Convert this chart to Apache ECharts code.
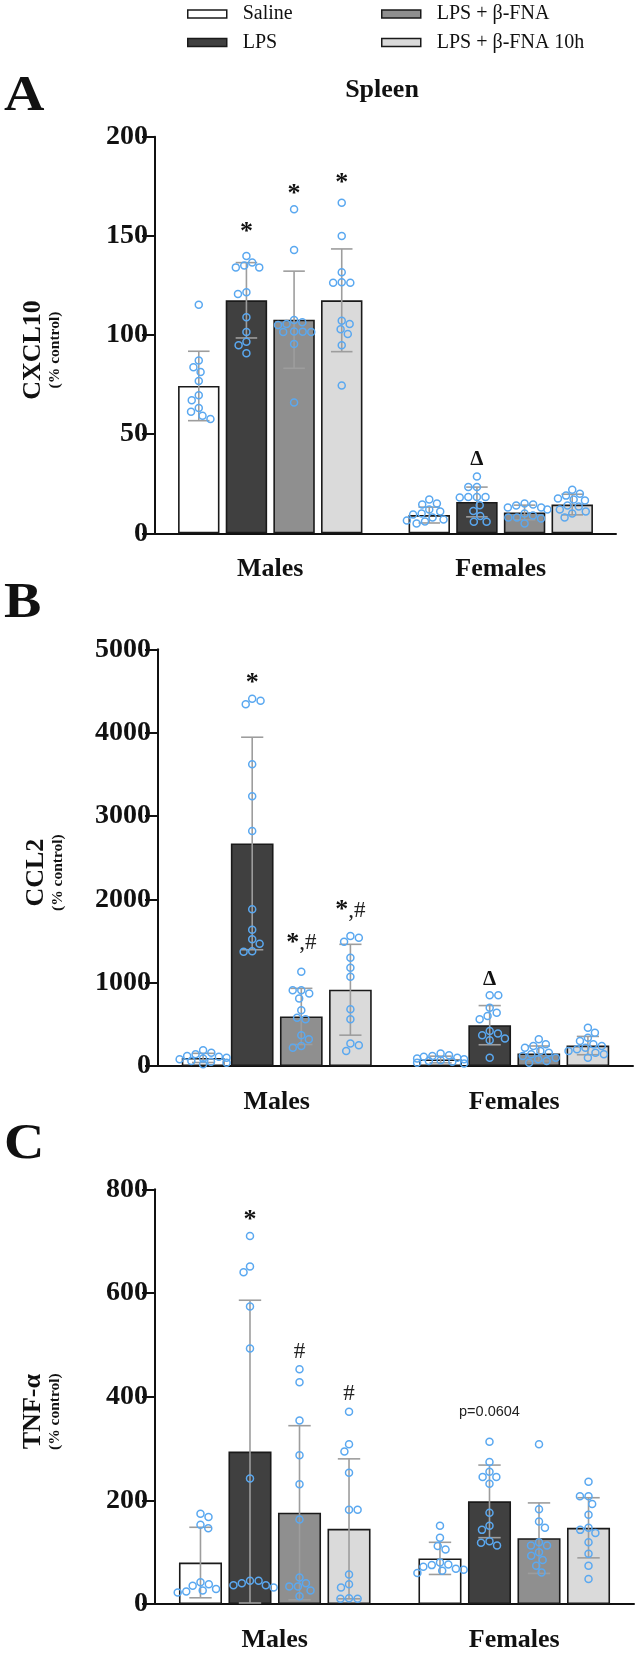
<!DOCTYPE html>
<html>
<head>
<meta charset="utf-8">
<script src="https://cdn.jsdelivr.net/npm/echarts@6/dist/echarts.min.js"></script>
<style>
  html, body { margin: 0; padding: 0; background: #fff; }
  #chart { width: 636px; height: 1653px; }
</style>
</head>
<body>
<div id="chart"></div>
<script>
var groups = ['Males', 'Females'];
var treatments = ['Saline', 'LPS', 'LPS + β-FNA', 'LPS + β-FNA 10h'];

// A - CXCL10 (% control)
var cxclMeanM = [74.3, 117.5, 107.7, 117.5];
var cxclSdM = [17.5, 19, 24.5, 25.9];
var cxclMeanF = [9.2, 15.8, 10.5, 14.5];
var cxclSdF = [4, 7.5, 3.7, 5.2];
var cxclPtsM = [
  [115.3, 83.7, 87.1, 81.3, 76.8, 69.6, 67.1, 63.2, 61.3, 57.6, 59.3],
  [139.8, 136.6, 134.1, 134.1, 135, 121.5, 120.7, 108.9, 101.5, 96.6, 94.8, 90.8],
  [163.4, 142.9, 105, 106.4, 107.6, 101.7, 101.5, 101.5, 101.8, 105.5, 95.5, 66],
  [166.7, 149.9, 131.6, 126.6, 126.4, 126.4, 105.5, 107.2, 102.9, 100.5, 94.8, 74.5]
];
var cxclPtsF = [
  [17, 15, 14.5, 12, 11, 10, 9.5, 8, 7, 6.5, 6, 5],
  [28.7, 23.3, 23.3, 18.3, 18.3, 18.3, 18, 14.2, 8.7, 11.3, 5.8, 5.8],
  [15, 14.5, 14, 13, 13, 12, 10, 9, 8, 8, 7.5, 5],
  [22, 20, 19, 17.5, 17, 16.5, 14, 13.5, 12, 11, 10, 8]
];
var cxclMarks = [[0, 1, 152, '*'], [0, 2, 171, '*'], [0, 3, 176.5, '*'], [1, 1, 37, 'Δ']];

// B - CCL2 (% control)
var ccl2MeanM = [97, 2670, 595, 915];
var ccl2SdM = [55, 1275, 337, 545];
var ccl2MeanF = [78, 490, 150, 245];
var ccl2SdF = [40, 235, 90, 110];
var ccl2PtsM = [
  [190, 160, 140, 120, 110, 100, 90, 80, 60, 50, 40, 20],
  [4384, 4340, 4408, 3620, 3236, 2820, 1880, 1636, 1468, 1520, 1372, 1376],
  [1130, 910, 910, 870, 810, 670, 580, 560, 370, 320, 240, 220],
  [1560, 1540, 1490, 1300, 1180, 1070, 680, 560, 270, 250, 180]
];
var ccl2PtsF = [
  [150, 130, 120, 110, 100, 90, 80, 70, 60, 50, 40, 30],
  [850, 850, 700, 640, 600, 560, 420, 390, 370, 330, 310, 100],
  [320, 260, 240, 220, 180, 160, 140, 120, 100, 80, 60, 40],
  [460, 400, 340, 300, 260, 240, 220, 200, 180, 160, 140, 100]
];
var ccl2Marks = [[0, 1, 4592, '*'], [0, 2, 1472, '*,#'], [0, 3, 1864, '*,#'], [1, 1, 1040, 'Δ']];

// C - TNF-α (% control)
var tnfMeanM = [80, 294, 176, 145];
var tnfSdM = [68, 292, 168, 135];
var tnfMeanF = [88, 198, 127, 147];
var tnfSdF = [31, 70, 68, 58];
var tnfPtsM = [
  [174, 168, 153, 146, 42, 38, 35, 29, 26, 24, 22],
  [710, 651, 640, 574, 493, 242, 36, 45, 36, 45, 32, 40],
  [453, 428, 354, 287, 231, 163, 51, 40, 34, 34, 26, 15],
  [371, 308, 294, 253, 182, 182, 57, 38, 32, 11, 10, 10]
];
var tnfPtsF = [
  [151, 128, 112, 105, 80, 76, 75, 72, 68, 66, 64, 60],
  [313, 274, 255, 245, 245, 232, 176, 151, 143, 121, 118, 113],
  [308, 183, 159, 147, 119, 113, 113, 100, 93, 85, 74, 61],
  [236, 208, 208, 193, 172, 147, 143, 137, 119, 97, 74, 48]
];
var tnfMarks = [[0, 1, 740, '*'], [0, 2, 486, '#'], [0, 3, 406, '#'], [1, 1, 370, 'p=0.0604']];

var SERIF = "'Liberation Serif', 'Times New Roman', serif";
var SANS = "'Liberation Sans', Arial, sans-serif";
var fills = ['#ffffff', '#404040', '#8f8f8f', '#dadada'];
var CAT_GAP = 0.2, BAR_GAP = 0.15;
var DOT = 8.6;

var panels = [
  { key: 'A', title: 'CXCL10', max: 200, step: 50, top: 136.7, height: 396.6, left: 155, right: 20,
    meanM: cxclMeanM, sdM: cxclSdM, meanF: cxclMeanF, sdF: cxclSdF, ptsM: cxclPtsM, ptsF: cxclPtsF, marks: cxclMarks },
  { key: 'B', title: 'CCL2', max: 5000, step: 1000, top: 649.3, height: 416.7, left: 158, right: 3,
    meanM: ccl2MeanM, sdM: ccl2SdM, meanF: ccl2MeanF, sdF: ccl2SdF, ptsM: ccl2PtsM, ptsF: ccl2PtsF, marks: ccl2Marks },
  { key: 'C', title: 'TNF-α', max: 800, step: 200, top: 1189.3, height: 415.2, left: 155, right: 2,
    meanM: tnfMeanM, sdM: tnfSdM, meanF: tnfMeanF, sdF: tnfSdF, ptsM: tnfPtsM, ptsF: tnfPtsF, marks: tnfMarks }
];

// beeswarm: horizontal pixel offsets so circles do not overlap, kept inside the bar
function swarm(vals, pxPerUnit, limit) {
  var order = vals.map(function (v, i) { return i; })
    .sort(function (a, b) { return vals[b] - vals[a]; });
  var placed = [], off = [];
  order.forEach(function (i, n) {
    var y = vals[i] * pxPerUnit, blocks = [];
    placed.forEach(function (p) {
      var dy = Math.abs(p.y - y);
      if (dy < DOT) {
        var dx = Math.sqrt(DOT * DOT - dy * dy);
        blocks.push([p.x - dx, p.x + dx]);
      }
    });
    var cands = [0];
    blocks.forEach(function (b) { cands.push(b[0], b[1]); });
    var sign = n % 2 ? 1 : -1;
    cands.sort(function (a, b) {
      var d = Math.abs(a) - Math.abs(b);
      return Math.abs(d) > 1e-6 ? d : (b - a) * sign;
    });
    var x = null;
    for (var c = 0; c < cands.length; c++) {
      var ok = blocks.every(function (b) { return cands[c] <= b[0] + 1e-6 || cands[c] >= b[1] - 1e-6; });
      if (ok && Math.abs(cands[c]) <= limit) { x = cands[c]; break; }
    }
    if (x === null) {
      // too crowded: take the slot inside the bar that is furthest from its neighbours
      var best = -1;
      [-1, -0.5, 0, 0.5, 1].forEach(function (f) {
        var cx = f * limit, near = Infinity;
        placed.forEach(function (p) { near = Math.min(near, Math.hypot(p.x - cx, p.y - y)); });
        if (near > best) { best = near; x = cx; }
      });
    }
    placed.push({ x: x, y: y });
    off[i] = x;
  });
  return off;
}

function barCenter(api, cat, k) {
  var c = api.coord([cat, 0]);
  var band = api.size([1, 0])[0];
  var w = band * (1 - CAT_GAP) / (4 + 3 * BAR_GAP);
  return { x: c[0] + (k - 1.5) * w * (1 + BAR_GAP), w: w };
}

var grids = [], xAxes = [], yAxes = [], series = [];

panels.forEach(function (p, gi) {
  grids.push({ left: p.left, right: p.right, top: p.top, height: p.height });
  xAxes.push({
    gridIndex: gi, type: 'category', data: groups,
    axisLine: { lineStyle: { color: '#111', width: 2 } },
    axisTick: { alignWithLabel: true, length: 13, lineStyle: { color: '#111', width: 2 } },
    axisLabel: { color: '#111', fontFamily: SERIF, fontWeight: 'bold', fontSize: 26, margin: 23 }
  });
  yAxes.push({
    gridIndex: gi, type: 'value', min: 0, max: p.max, interval: p.step,
    name: '{t|' + p.title + '}\n{s|(% control)}',
    nameLocation: 'middle', nameRotate: 90, nameGap: 92,
    nameTextStyle: {
      padding: [0, 30, 0, 0],
      rich: {
        t: { fontFamily: SERIF, fontWeight: 'bold', fontSize: 26, color: '#111', lineHeight: 26, align: 'center' },
        s: { fontFamily: SERIF, fontWeight: 'bold', fontSize: 15.5, color: '#111', lineHeight: 17, align: 'center' }
      }
    },
    axisLine: { show: true, lineStyle: { color: '#111', width: 2 } },
    axisTick: { show: true, length: 13, lineStyle: { color: '#111', width: 2 } },
    axisLabel: { color: '#111', fontFamily: SERIF, fontWeight: 'bold', fontSize: 28, margin: 7,
      formatter: function (v) { return String(v); } },
    splitLine: { show: false }
  });

  treatments.forEach(function (t, k) {
    series.push({
      name: t, type: 'bar', xAxisIndex: gi, yAxisIndex: gi,
      barGap: (BAR_GAP * 100) + '%', barCategoryGap: (CAT_GAP * 100) + '%',
      data: [p.meanM[k], p.meanF[k]],
      itemStyle: { color: fills[k], borderColor: '#1a1a1a', borderWidth: 1.6 },
      emphasis: { disabled: true },
      z: 2
    });
  });

  var errData = [];
  treatments.forEach(function (t, k) {
    errData.push([0, k, p.meanM[k], p.sdM[k]]);
    errData.push([1, k, p.meanF[k], p.sdF[k]]);
  });
  series.push({
    type: 'custom', xAxisIndex: gi, yAxisIndex: gi, z: 3, silent: true,
    encode: { x: 0, y: 2 },
    data: errData,
    renderItem: function (params, api) {
      var bc = barCenter(api, api.value(0), api.value(1));
      var m = api.value(2), sd = api.value(3);
      var hi = api.coord([0, m + sd])[1], lo = api.coord([0, Math.max(0, m - sd)])[1];
      var cap = bc.w * 0.26;
      var st = { stroke: '#9d9d9d', lineWidth: 1.6 };
      return { type: 'group', children: [
        { type: 'line', shape: { x1: bc.x, y1: hi, x2: bc.x, y2: lo }, style: st },
        { type: 'line', shape: { x1: bc.x - cap, y1: hi, x2: bc.x + cap, y2: hi }, style: st },
        { type: 'line', shape: { x1: bc.x - cap, y1: lo, x2: bc.x + cap, y2: lo }, style: st }
      ] };
    }
  });

  var pxPerUnit = p.height / p.max;
  var band = (636 - p.left - p.right) / 2;
  var barW = band * (1 - CAT_GAP) / (4 + 3 * BAR_GAP);
  var dotData = [];
  [p.ptsM, p.ptsF].forEach(function (sets, cat) {
    sets.forEach(function (vals, k) {
      var off = swarm(vals, pxPerUnit, barW * 0.55);
      vals.forEach(function (v, i) { dotData.push([cat, k, v, off[i]]); });
    });
  });
  series.push({
    type: 'custom', xAxisIndex: gi, yAxisIndex: gi, z: 4, silent: true,
    encode: { x: 0, y: 2 },
    data: dotData,
    renderItem: function (params, api) {
      var bc = barCenter(api, api.value(0), api.value(1));
      var y = api.coord([0, api.value(2)])[1];
      return { type: 'circle', shape: { cx: bc.x + api.value(3), cy: y, r: 3.5 },
        style: { fill: 'none', stroke: '#5aa8f0', lineWidth: 1.5 } };
    }
  });

  series.push({
    type: 'custom', xAxisIndex: gi, yAxisIndex: gi, z: 5, silent: true,
    encode: { x: 0, y: 2 },
    data: p.marks,
    renderItem: function (params, api) {
      var mk = p.marks[params.dataIndex];
      var bc = barCenter(api, mk[0], mk[1]);
      var y = api.coord([0, mk[2]])[1];
      var txt, rich = {
        s: { fontFamily: SERIF, fontWeight: 'bold', fontSize: 26, fill: '#111' },
        h: { fontFamily: SERIF, fontSize: 23, fill: '#222' },
        d: { fontFamily: SERIF, fontWeight: 'bold', fontSize: 21, fill: '#111' },
        p: { fontFamily: SANS, fontSize: 14.5, fill: '#222' }
      };
      if (mk[3] === '*') txt = '{s|*}';
      else if (mk[3] === '*,#') txt = '{s|*}{h|,#}';
      else if (mk[3] === '#') txt = '{h|#}';
      else if (mk[3] === 'Δ') txt = '{d|Δ}';
      else txt = '{p|' + mk[3] + '}';
      return { type: 'text', x: bc.x, y: y,
        style: { text: txt, rich: rich, align: 'center', verticalAlign: 'middle' } };
    }
  });
});

var legendBase = {
  orient: 'vertical', itemWidth: 39, itemHeight: 8, itemGap: 8.5, icon: 'rect',
  selectedMode: false, padding: 0,
  itemStyle: { borderColor: '#1a1a1a', borderWidth: 1.5 },
  textStyle: { fontFamily: SERIF, fontSize: 20, color: '#111', lineHeight: 20, padding: [0, 0, 0, 11] }
};

function panelLetter(ch, y) {
  return { type: 'text', x: 4, y: y, scaleX: 1.12,
    style: { text: ch, font: 'bold 50px ' + SERIF, fill: '#111', verticalAlign: 'middle' } };
}

var option = {
  backgroundColor: '#ffffff',
  animation: false,
  legend: [
    Object.assign({}, legendBase, { left: 187, top: 4, data: ['Saline', 'LPS'] }),
    Object.assign({}, legendBase, { left: 381, top: 4, data: ['LPS + β-FNA', 'LPS + β-FNA 10h'] })
  ],
  graphic: [
    panelLetter('A', 97),
    panelLetter('B', 604),
    panelLetter('C', 1145),
    { type: 'text', x: 382, y: 90, style: { text: 'Spleen', font: 'bold 26px ' + SERIF, fill: '#111',
      align: 'center', verticalAlign: 'middle' } }
  ],
  grid: grids,
  xAxis: xAxes,
  yAxis: yAxes,
  series: series
};

var chart = echarts.init(document.getElementById('chart'));
chart.setOption(option);
</script>
</body>
</html>
